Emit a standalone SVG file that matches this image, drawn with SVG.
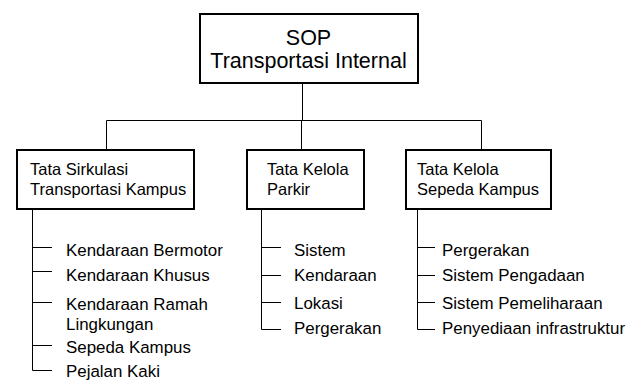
<svg xmlns="http://www.w3.org/2000/svg" width="638" height="381" viewBox="0 0 638 381">
<style>
.box{fill:#fff;stroke:#000;stroke-width:2}
.t{font-family:"Liberation Sans",Arial,sans-serif;font-size:16.5px;fill:#000}
.i{font-family:"Liberation Sans",Arial,sans-serif;font-size:16.9px;fill:#000}
.big{font-family:"Liberation Sans",Arial,sans-serif;font-size:21.5px;fill:#000;text-anchor:middle}
.c{fill:none;stroke:#000;stroke-width:1}
</style>
<rect width="638" height="381" fill="#fff"/>
<g id="connectors">
<path class="c" d="M302.5 83V120.5M106.5 120.5H481.5M106.5 120.5V150M301.5 120.5V150M481.5 120.5V150"/>
<path class="c" d="M32.5 209V370.5H52M32.5 247.5H52M32.5 271.5H52M32.5 302.5H52M32.5 345.5H52"/>
<path class="c" d="M261.5 209V329.5H281M261.5 247.5H281M261.5 275.5H281M261.5 302.5H281"/>
<path class="c" d="M417.5 209V329.5H435M417.5 247.5H435M417.5 275.5H435M417.5 302.5H435"/>
</g>
<g id="root">
<rect class="box" x="200" y="14" width="218" height="69"/>
<text class="big" x="308.5" y="45">SOP</text>
<text class="big" x="308.5" y="68">Transportasi Internal</text>
</g>
<g id="sirkulasi">
<rect class="box" x="17" y="150" width="177" height="59"/>
<text class="t" x="30" y="175">Tata Sirkulasi</text>
<text class="t" x="30" y="195">Transportasi Kampus</text>
</g>
<g id="parkir">
<rect class="box" x="247" y="150" width="117" height="59"/>
<text class="t" x="267" y="175">Tata Kelola</text>
<text class="t" x="267" y="195">Parkir</text>
</g>
<g id="sepeda">
<rect class="box" x="406" y="150" width="145" height="59"/>
<text class="t" x="417" y="175">Tata Kelola</text>
<text class="t" x="417" y="195">Sepeda Kampus</text>
</g>
<g id="sirkulasi-items">
<text class="i" x="66" y="256">Kendaraan Bermotor</text>
<text class="i" x="66" y="281">Kendaraan Khusus</text>
<text class="i" x="66" y="310">Kendaraan Ramah</text>
<text class="i" x="66" y="330">Lingkungan</text>
<text class="i" x="66" y="353">Sepeda Kampus</text>
<text class="i" x="66" y="377">Pejalan Kaki</text>
</g>
<g id="parkir-items">
<text class="i" x="294" y="256">Sistem</text>
<text class="i" x="294" y="281">Kendaraan</text>
<text class="i" x="294" y="309">Lokasi</text>
<text class="i" x="294" y="334">Pergerakan</text>
</g>
<g id="sepeda-items">
<text class="i" x="442" y="256">Pergerakan</text>
<text class="i" x="442" y="281">Sistem Pengadaan</text>
<text class="i" x="442" y="309">Sistem Pemeliharaan</text>
<text class="i" x="442" y="334">Penyediaan infrastruktur</text>
</g>
</svg>
